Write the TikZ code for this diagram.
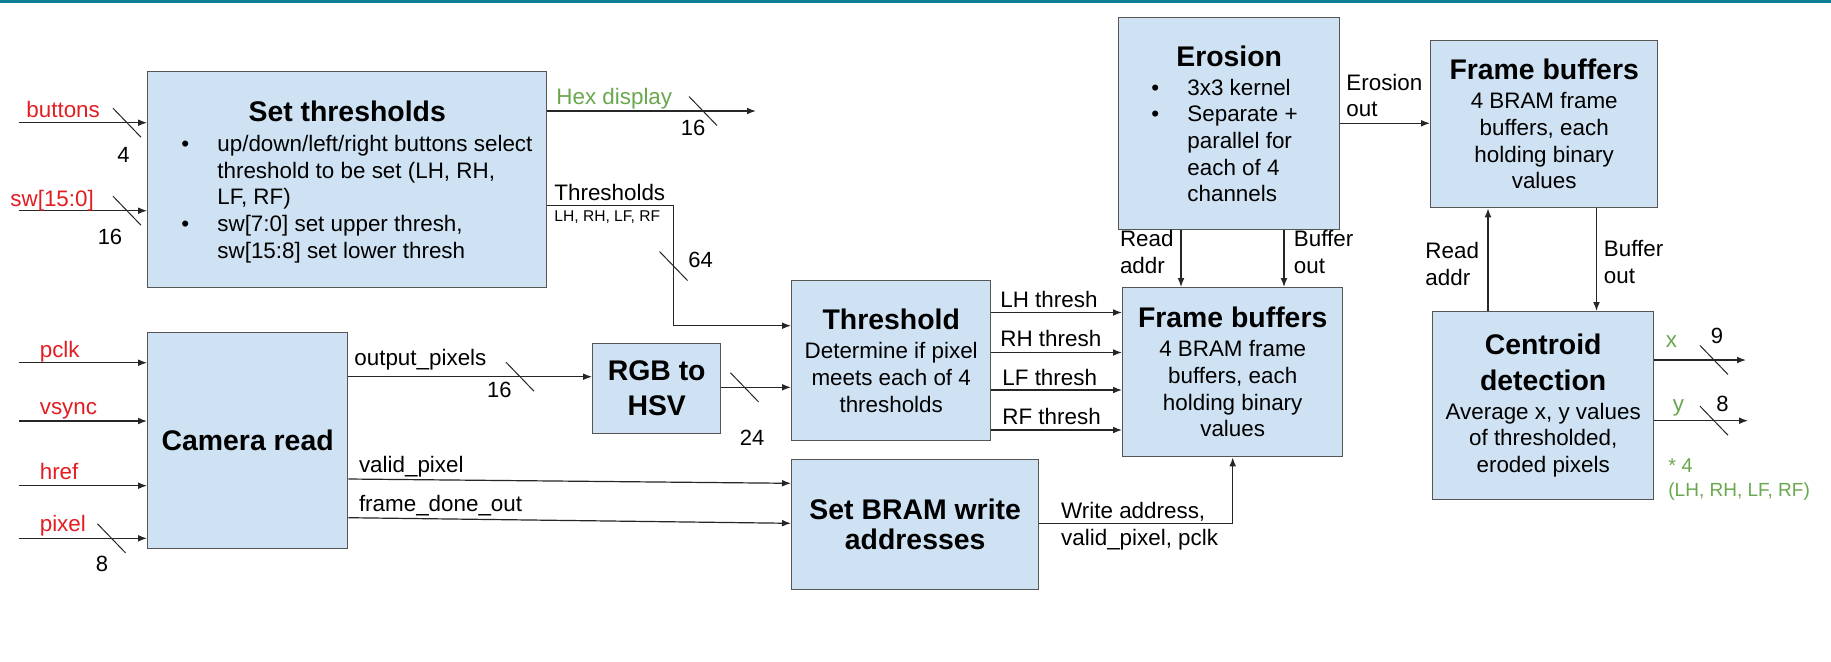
\documentclass[tikz,border=0pt]{standalone}
\usepackage{fontspec}
\setmainfont{Liberation Sans}
\usetikzlibrary{arrows.meta}

\definecolor{boxfill}{RGB}{207,226,243}
\definecolor{boxline}{RGB}{85,85,85}
\definecolor{inred}{RGB}{226,30,35}
\definecolor{outgreen}{RGB}{106,168,79}
\definecolor{topbar}{RGB}{14,126,150}

\newcommand{\bodyfont}{\fontsize{11.2}{13.3}\selectfont}
\newcommand{\blkttl}{\fontsize{14.2}{13.3}\selectfont\bfseries}
\newcommand{\itm}{\llap{\makebox[18pt][l]{\textbullet}}}

\begin{document}
\begin{tikzpicture}[
  x=0.5pt, y=-0.5pt,
  font=\bodyfont,
  blk/.style={rectangle, draw=boxline, fill=boxfill, line width=0.7pt,
    inner sep=0pt, anchor=north west, align=center},
  ttl/.style={font=\blkttl, inner sep=0pt, anchor=base},
  lst/.style={inner sep=0pt, anchor=base west, align=left},
  arr/.style={-{Latex[length=4.5pt,width=3.4pt]}, line width=0.6pt, black!85},
  bus/.style={line width=0.5pt, black!85},
  lbl/.style={inner sep=0pt, anchor=base west, align=left},
  inlbl/.style={lbl, text=inred},
  outlbl/.style={lbl, text=outgreen},
  wdt/.style={inner sep=0pt, font=\fontsize{11}{13}\selectfont}
]

\path[use as bounding box, fill=white] (0,0) rectangle (1831,661);
\fill[topbar] (0,0) rectangle (1831,3);

% --- blocks ---
\node[blk, minimum width=199.5pt, minimum height=108pt] (setth) at (147,71) {};
\node[ttl] (setthT) at (setth.north |- 0,121.7) {Set thresholds};
\node[lst] (setthL) at (217,258)
  {\itm up/down/left/right buttons select\\threshold to be set (LH, RH,\\LF, RF)\\\itm sw[7:0] set upper thresh,\\sw[15:8] set lower thresh};

\node[blk, minimum width=100pt, minimum height=108pt] (cam) at (147,332) {{\blkttl Camera read}};

\node[blk, minimum width=64pt, minimum height=45pt] (rgb) at (592,343)
  {{\blkttl RGB to}\\[4.2pt]{\blkttl HSV}};

\node[blk, minimum width=99.5pt, minimum height=80pt] (thr) at (791,280)
  {{\blkttl Threshold}\\[1.35pt]Determine if pixel\\meets each of 4\\thresholds};

\node[blk, minimum width=123.5pt, minimum height=65pt] (bram) at (791,459)
  {{\blkttl Set BRAM write}\\[1.7pt]{\blkttl addresses}};

\node[blk, minimum width=110.5pt, minimum height=106pt] (ero) at (1118,17) {};
\node[ttl] (eroT) at (ero.north |- 0,66.7) {Erosion};
\node[lst] (eroL) at (1187,201.7)
  {\itm 3x3 kernel\\\itm Separate +\\parallel for\\each of 4\\channels};

\node[blk, minimum width=110pt, minimum height=84.5pt] (fbA) at (1122,287)
  {{\blkttl Frame buffers}\\[1.2pt]4 BRAM frame\\buffers, each\\holding binary\\values};

\node[blk, minimum width=113.5pt, minimum height=83.5pt] (fbB) at (1430,40)
  {{\blkttl Frame buffers}\\[1.2pt]4 BRAM frame\\buffers, each\\holding binary\\values};

\node[blk, minimum width=110.5pt, minimum height=94pt] (cen) at (1432,311)
  {{\blkttl Centroid}\\[4.7pt]{\blkttl detection}\\[0.9pt]Average x, y values\\of thresholded,\\eroded pixels};

% --- inputs ---
\coordinate (btnin) at (19,122.7);
\coordinate (swin) at (19,210.7);
\coordinate (pclkin) at (19,362.7);
\coordinate (vsyncin) at (19,421);
\coordinate (hrefin) at (19,485.7);
\coordinate (pixin) at (19,538.3);
\foreach \c in {btnin, swin}
  \draw[arr] (\c) -- (\c -| setth.west);
\foreach \c in {pclkin, vsyncin, hrefin, pixin}
  \draw[arr] (\c) -- (\c -| cam.west);

\node[inlbl] (lbtn) at (26,117) {buttons};
\node[inlbl] (lsw) at (10,206.7) {sw[15:0]};
\node[inlbl] (lpclk) at (39.4,357.7) {pclk};
\node[inlbl] (lvsync) at (39.4,414) {vsync};
\node[inlbl] (lhref) at (39.4,479) {href};
\node[inlbl] (lpix) at (39.4,531.7) {pixel};

% --- set thresholds outputs ---
\coordinate (hexout) at (756,111);
\draw[arr] (hexout -| setth.east) -- (hexout);
\node[outlbl] (lhex) at (556,104) {Hex display};

\coordinate (thbend) at (673.5,205.7);
\draw[arr] (thbend -| setth.east) -- (thbend) |- (thr.west |- 0,325.7);
\node[lbl] (lth) at (554,200) {Thresholds};
\node[lbl, font=\fontsize{7.8}{9}\selectfont] (lthsub) at (554,221.7) {LH, RH, LF, RF};

% --- pixel path ---
\draw[arr] (cam.east |- 0,376.7) -- (rgb.west |- 0,376.7);
\node[lbl] (lout) at (354,365) {output\_pixels};
\draw[arr] (rgb.east |- 0,387.3) -- (thr.west |- 0,387.3);

\draw[arr] (cam.east |- 0,479) -- (bram.west |- 0,483.3);
\node[lbl] (lvalid) at (358.6,472.3) {valid\_pixel};
\draw[arr] (cam.east |- 0,517.7) -- (bram.west |- 0,523.3);
\node[lbl] (ldone) at (358.6,511) {frame\_done\_out};

% --- threshold to frame buffers ---
\foreach \yy in {312.5, 352.5, 390, 430}
  \draw[arr] (thr.east |- 0,\yy) -- (fbA.west |- 0,\yy);
\node[lbl] (llh) at (1000,307.3) {LH thresh};
\node[lbl] (lrh) at (1000,346.7) {RH thresh};
\node[lbl] (llf) at (1002,385) {LF thresh};
\node[lbl] (lrf) at (1002,424) {RF thresh};

\draw[arr] (bram.east |- 0,523.3) -| (fbA.south);
\node[lbl] (lwr) at (1060.8,545) {Write address,\\valid\_pixel, pclk};

% --- erosion ---
\foreach \xx in {1181, 1284}
  \draw[arr] (ero.south -| \xx,0) -- (fbA.north -| \xx,0);
\node[lbl] (lrdA) at (1119.6,273) {Read\\addr};
\node[lbl] (lbufA) at (1293.5,273) {Buffer\\out};

\draw[arr] (ero.east |- 0,123.3) -- (fbB.west |- 0,123.3);
\node[lbl] (lero) at (1346,116.7) {Erosion\\out};

% --- centroid ---
\draw[arr] (cen.north -| 1488,0) -- (fbB.south -| 1488,0);
\draw[arr] (fbB.south -| 1596.5,0) -- (cen.north -| 1596.5,0);
\node[lbl] (lrdB) at (1425,285) {Read\\addr};
\node[lbl] (lbufB) at (1603.5,283) {Buffer\\out};

\coordinate (xout) at (1746,360);
\coordinate (yout) at (1748,420.7);
\draw[arr] (xout -| cen.east) -- (xout);
\draw[arr] (yout -| cen.east) -- (yout);
\node[outlbl] (lx) at (1665.5,347.3) {x};
\node[outlbl] (ly) at (1672.5,411.7) {y};
\node[outlbl, font=\fontsize{10}{12}\selectfont] (lmul) at (1668,472) {* 4};
\node[outlbl, font=\fontsize{9.5}{11}\selectfont] (lchan) at (1668,496.7) {(LH, RH, LF, RF)};

% --- bus widths ---
\foreach \p in {(127,122.7),(127,210.7),(111.5,538.3),(703,111),(673.5,266),
                (520,376.7),(744.5,387.3),(1714,360),(1714,420.7)}
  \draw[bus] \p ++(-14,-14.5) -- ++(28,29);
\node[wdt] (w4) at (123.6,155) {4};
\node[wdt] (w16a) at (110,236.7) {16};
\node[wdt] (w8p) at (102,564.3) {8};
\node[wdt] (w16h) at (693,127.7) {16};
\node[wdt] (w64) at (700.5,260) {64};
\node[wdt] (w16o) at (499.4,390) {16};
\node[wdt] (w24) at (752,438.3) {24};
\node[wdt] (w9) at (1717,336) {9};
\node[wdt] (w8y) at (1722.5,404) {8};

\end{tikzpicture}
\end{document}
